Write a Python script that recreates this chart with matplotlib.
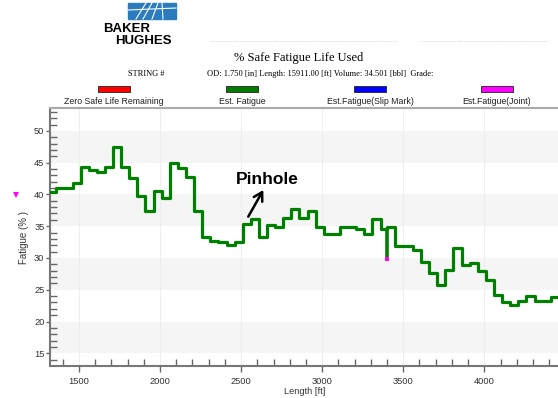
import matplotlib
matplotlib.use("Agg")
import matplotlib.pyplot as plt
from matplotlib import font_manager
from matplotlib.patches import Rectangle
from matplotlib.lines import Line2D

# step start depth [ft] and fatigue [%]
depth = [1310, 1360, 1410, 1460, 1510, 1560, 1610, 1660, 1710, 1760,
         1810, 1860, 1910, 1960, 2010, 2060, 2110, 2160, 2210, 2260,
         2310, 2360, 2410, 2460, 2510, 2560, 2610, 2660, 2710, 2760,
         2810, 2860, 2910, 2960, 3010, 3060, 3110, 3160, 3210, 3260,
         3310, 3360, 3400, 3450, 3500, 3560, 3610, 3660, 3710, 3760,
         3810, 3860, 3910, 3960, 4010, 4060, 4110, 4160, 4210, 4260,
         4310, 4360, 4410]
fatigue = [40.4, 41.0, 41.0, 41.8, 44.3, 43.9, 43.6, 44.3, 47.5, 44.3,
           42.6, 39.7, 37.4, 40.6, 39.5, 45.0, 44.2, 42.7, 37.4, 33.3,
           32.7, 32.5, 32.1, 32.5, 35.3, 36.1, 33.3, 35.2, 34.9, 36.3,
           37.7, 36.3, 37.4, 34.8, 33.7, 33.8, 34.8, 34.8, 34.5, 33.8,
           36.2, 34.5, 34.8, 31.9, 31.9, 31.2, 29.4, 27.7, 25.7, 28.1,
           31.5, 28.9, 29.2, 28.0, 26.5, 24.2, 23.1, 22.6, 23.2, 24.0,
           23.2, 23.2, 23.9]
depth_end = 4470

# joint (pinhole spike)
joint_depth = 3400
joint_low = 30.2
joint_mark = 29.9
# joint marker shown left of the axis
left_mark = (1111, 39.9)

legend_labels = ["Zero Safe Life Remaining", "Est. Fatigue",
                 "Est.Fatigue(Slip Mark)", "Est.Fatigue(Joint)"]
legend_colors = ["#ff0000", "#007a00", "#0000ff", "#ff00ff"]

names = {f.name for f in font_manager.fontManager.ttflist}
narrow = "Liberation Sans Narrow" if "Liberation Sans Narrow" in names else "Liberation Sans"
nsize = 7 if narrow == "Liberation Sans Narrow" else 6.3

W, H = 558, 398
fig = plt.figure(figsize=(W / 100, H / 100), dpi=100)


def px(x, y):
    return x / W, 1 - y / H


# logo
fig.patches.append(Rectangle(px(128, 19), 48 / W, 16 / H, transform=fig.transFigure,
                             color="#2b7bbf", zorder=1))
for (x0, y0, x1, y1) in [(136, 19, 146, 3), (143, 19, 152, 3), (152, 19, 158, 3), (163, 19, 162, 3)]:
    fig.lines.append(Line2D([x0 / W, x1 / W], [1 - y0 / H, 1 - y1 / H], transform=fig.transFigure,
                            color="white", lw=0.8, zorder=2))
fig.lines.append(Line2D([128 / W, 176 / W], [1 - 10 / H, 1 - 8 / H], transform=fig.transFigure,
                        color="white", lw=0.8, zorder=2))
fig.text(*px(103, 31.5), "BAKER", fontsize=9.5, fontweight="heavy", family="Liberation Sans",
         va="baseline", ha="left")
fig.text(*px(115, 43.5), "HUGHES", fontsize=9.5, fontweight="heavy", family="Liberation Sans",
         va="baseline", ha="left")

# faint dotted header line
fig.lines.append(Line2D([210 / W, 397 / W], [1 - 41 / H] * 2, transform=fig.transFigure,
                        color="#bbbbbb", lw=0.5, ls=(0, (1, 1.5))))
fig.lines.append(Line2D([420 / W, 548 / W], [1 - 41 / H] * 2, transform=fig.transFigure,
                        color="#bbbbbb", lw=0.5, ls=(0, (1, 1.5))))

fig.text(*px(299, 58), "% Safe Fatigue Life Used", fontsize=9, family="Liberation Serif",
         ha="center", va="center")
fig.text(*px(146, 74), "STRING #", fontsize=6, family="Liberation Serif", ha="center", va="center")
fig.text(*px(207, 74), "OD: 1.750 [in] Length: 15911.00 [ft] Volume: 34.501 [bbl]  Grade:",
         fontsize=6, family="Liberation Serif", ha="left", va="center")

# legend
centers = [114, 242, 370, 497]
for cx, lab, col in zip(centers, legend_labels, legend_colors):
    fig.patches.append(Rectangle(px(cx - 16, 92), 32 / W, 6 / H, transform=fig.transFigure,
                                 facecolor=col, edgecolor="#222222", lw=0.6))
    fig.text(*px(cx, 102), lab, fontsize=nsize, family=narrow, ha="center", va="center",
             color="#222222")

ax = fig.add_axes([50 / W, 1 - 366 / H, 510 / W, (366 - 108) / H])
ax.set_xlim(1321, 4467)
ax.set_ylim(13, 53.6)

for lo in (15, 25, 35, 45):
    ax.axhspan(lo, lo + 5, color="#f5f5f5", zorder=0, lw=0)
for xv in range(1500, 4500, 500):
    ax.axvline(xv, color="#eeeeee", lw=0.8, zorder=0.5)

ax.step(depth + [depth_end], fatigue + [fatigue[-1]], where="post", color="#008000", lw=2.3,
        zorder=3)
ax.vlines(joint_depth, joint_low, fatigue[depth.index(joint_depth) - 1], color="#008000",
          lw=2.6, zorder=3)
ax.plot([joint_depth], [joint_mark], marker="s", ms=3, color="#ff00ff", mew=0, zorder=4)
ax.plot([left_mark[0]], [left_mark[1]], marker="v", ms=4.5, color="#ff00ff", mew=0,
        clip_on=False, zorder=4)

ax.annotate("", xy=(2637, 40.7), xytext=(2544, 36.5),
            arrowprops=dict(arrowstyle="->,head_length=0.6,head_width=0.35", color="black",
                            lw=1.8, shrinkA=0, shrinkB=0))
ax.text(2660, 42.4, "Pinhole", fontsize=12.5, fontweight="bold", family="Liberation Sans",
        ha="center", va="center")

ax.set_xticks(range(1500, 4500, 500))
ax.set_xticks(range(1400, 4500, 100), minor=True)
ax.set_yticks(range(15, 55, 5))
ax.set_yticks(range(14, 54, 1), minor=True)
ax.tick_params(which="major", direction="out", length=4, width=1, color="#666666",
               labelsize=nsize + 0.4, labelcolor="#333333")
ax.tick_params(axis="x", which="major", pad=4)
ax.tick_params(axis="y", which="major", length=3, pad=1)
ax.tick_params(which="minor", direction="in", length=5, width=1, color="#666666")
for lab in ax.get_xticklabels() + ax.get_yticklabels():
    lab.set_family(narrow)

for s in ("left", "bottom"):
    ax.spines[s].set_color("#777777")
    ax.spines[s].set_linewidth(1.5)
ax.spines["top"].set_color("#aaaaaa")
ax.spines["top"].set_linewidth(1.5)
ax.spines["right"].set_visible(False)

ax.set_xlabel("Length [ft]", fontsize=nsize + 0.4, family=narrow, color="#333333", labelpad=0.5)
ax.set_ylabel("Fatigue (% )", fontsize=7, family="Liberation Sans", color="#333333", labelpad=4)

fig.savefig("out.png", dpi=100)
